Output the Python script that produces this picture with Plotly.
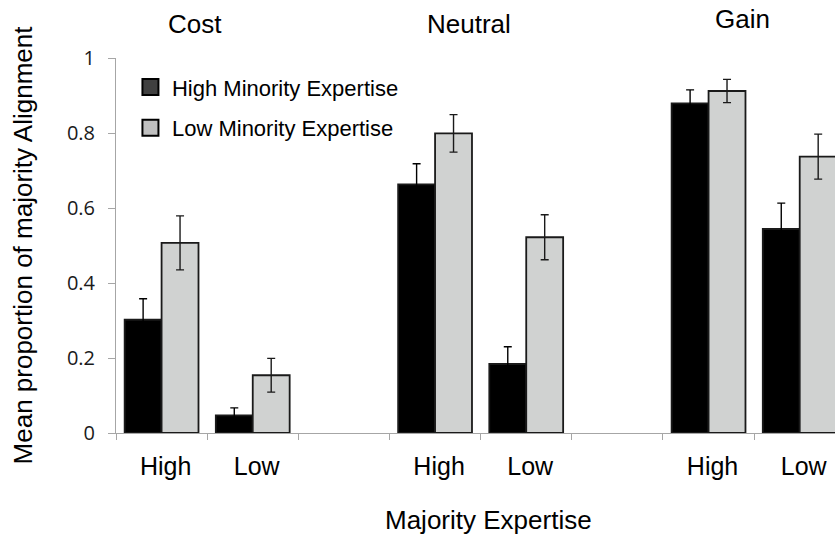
import plotly.graph_objects as go

# Experimental conditions and majority-expertise levels
conditions = ["Cost", "Neutral", "Gain"]
majority_levels = ["High", "Low"]

# Mean proportion of majority alignment (with error-bar half widths)
high_minority_mean = [0.302, 0.047, 0.663, 0.184, 0.879, 0.544]
high_minority_err = [0.056, 0.020, 0.055, 0.046, 0.036, 0.069]
low_minority_mean = [0.507, 0.154, 0.799, 0.522, 0.912, 0.737]
low_minority_err = [0.072, 0.045, 0.050, 0.060, 0.031, 0.060]

y_ticks = [0, 0.2, 0.4, 0.6, 0.8, 1]
y_tick_labels = ["0", "0.2", "0.4", "0.6", "0.8", "1"]

# Each condition occupies three slots: High, Low and an empty spacer
positions = [3 * ci + li for ci in range(len(conditions)) for li in range(len(majority_levels))]
x_labels = [lvl for _ in conditions for lvl in majority_levels]

ARIAL = "Liberation Sans, Arial, sans-serif"
AXIS_GREY = "#a6a6a6"
OUTLINE = "#1a1a1a"

fig = go.Figure()

fig.add_trace(go.Bar(
    x=positions, y=high_minority_mean, name="High Minority Expertise",
    marker=dict(color="#000000", line=dict(color=OUTLINE, width=1.8)),
    error_y=dict(type="data", array=high_minority_err, color="#000000",
                 thickness=1.4, width=4),
    showlegend=False,
))
fig.add_trace(go.Bar(
    x=positions, y=low_minority_mean, name="Low Minority Expertise",
    marker=dict(color="#d0d2d1", line=dict(color=OUTLINE, width=1.8)),
    error_y=dict(type="data", array=low_minority_err, color="#1a1a1a",
                 thickness=1.4, width=4),
    showlegend=False,
))

# Legend swatches
legend_styles = [("High Minority Expertise", "#404040"), ("Low Minority Expertise", "#c0c0c0")]
for i, (label, colour) in enumerate(legend_styles):
    fig.add_trace(go.Scatter(
        x=[None], y=[None], mode="markers", name=label, legendgroup=f"g{i}",
        marker=dict(symbol="square", size=16, color=colour,
                    line=dict(color="#000000", width=2)),
    ))

# Condition headings above each group
heading_y = [1.0915, 1.0915, 1.1053]
for ci, (cond, hy) in enumerate(zip(conditions, heading_y)):
    fig.add_annotation(
        x=3 * ci + 0.5, y=hy, xref="x", yref="paper", text=cond, showarrow=False,
        xshift=-12, yanchor="middle", font=dict(family=ARIAL, size=26, color="#000000"),
    )

# Horizontal axis title, centred under the full (partly clipped) category band
fig.add_annotation(
    x=0.5174, y=-0.2312, xref="paper", yref="paper", text="Majority Expertise",
    showarrow=False, xanchor="center", yanchor="middle",
    font=dict(family=ARIAL, size=26, color="#000000"),
)

fig.update_layout(
    width=835, height=534,
    margin=dict(l=116, r=0, t=58, b=101),
    paper_bgcolor="white", plot_bgcolor="white",
    barmode="group", bargap=0.19, bargroupgap=0,
    showlegend=True,
    legend=dict(
        x=0.018, y=0.978, xanchor="left", yanchor="top",
        font=dict(family=ARIAL, size=22, color="#000000"),
        bgcolor="rgba(0,0,0,0)", traceorder="grouped", tracegroupgap=9,
        itemwidth=33,
    ),
    xaxis=dict(
        range=[-0.5, 7.387],
        tickmode="array", tickvals=positions, ticktext=x_labels,
        ticks="", showline=True, linecolor=AXIS_GREY, linewidth=1,
        showgrid=False, zeroline=False,
        tickfont=dict(family=ARIAL, size=25, color="#000000"),
        ticklabelstandoff=11, ticklabelshift=4,
        minor=dict(tickmode="linear", tick0=-0.5, dtick=1, ticks="outside",
                   ticklen=6, tickcolor=AXIS_GREY, tickwidth=1, showgrid=False),
    ),
    yaxis=dict(
        range=[0, 1],
        tickmode="array", tickvals=y_ticks, ticktext=y_tick_labels,
        ticks="outside", ticklen=7, tickcolor=AXIS_GREY, tickwidth=1,
        showline=True, linecolor=AXIS_GREY, linewidth=1,
        showgrid=False, zeroline=False,
        tickfont=dict(family="Open Sans, sans-serif", size=20, color="#1a1a1a"),
        ticklabelstandoff=9,
        title=dict(text="Mean proportion of majority Alignment", standoff=26,
                   font=dict(family=ARIAL, size=26, color="#000000")),
    ),
)

fig.write_html("out.html")
